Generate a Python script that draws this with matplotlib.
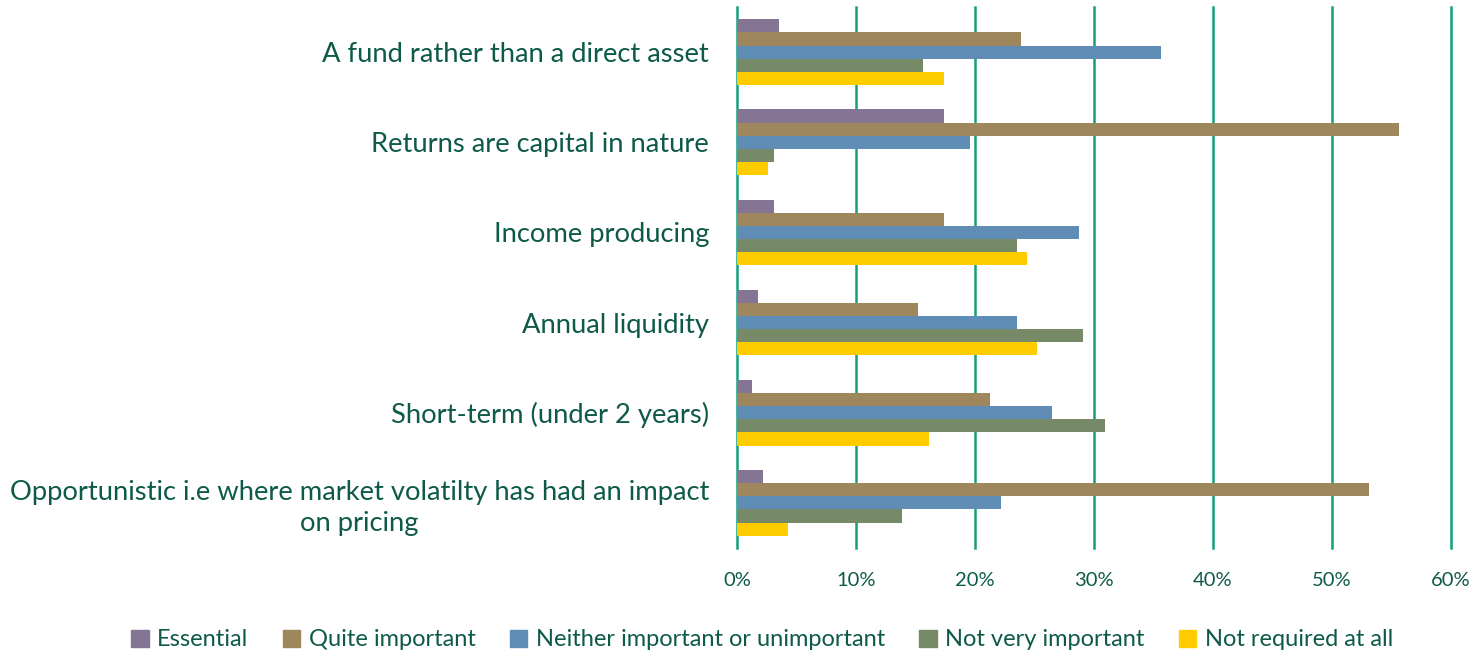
import matplotlib.pyplot as plt
from matplotlib.patches import Patch
from matplotlib.ticker import PercentFormatter
import numpy as np

categories = [
    "A fund rather than a direct asset",
    "Returns are capital in nature",
    "Income producing",
    "Annual liquidity",
    "Short-term (under 2 years)",
    "Opportunistic i.e where market volatilty has had an impact\non pricing",
]
series = ["Essential", "Quite important", "Neither important or unimportant",
          "Not very important", "Not required at all"]

essential = [3.5, 17.4, 3.1, 1.8, 1.3, 2.2]
quite_important = [23.9, 55.6, 17.4, 15.2, 21.3, 53.1]
neither = [35.6, 19.6, 28.7, 23.5, 26.5, 22.2]
not_very = [15.6, 3.1, 23.5, 29.1, 30.9, 13.9]
not_required = [17.4, 2.6, 24.4, 25.2, 16.1, 4.3]

colors = ["#857594", "#9E865D", "#5F8DB5", "#778A67", "#FFCC00"]
text_color = "#0E5A48"
grid_color = "#13A07E"

plt.rcParams['font.family'] = ['Lato', 'DejaVu Sans']

fig = plt.figure(figsize=(14.76, 6.55), dpi=100)
ax = fig.add_axes([737 / 1476, 1 - 548 / 655, (1451 - 737) / 1476, (548 - 7) / 655])

values = [essential, quite_important, neither, not_very, not_required]
y = np.arange(len(categories))
h = 0.146
for i, (vals, c) in enumerate(zip(values, colors)):
    ax.barh(y + (i - 2) * h, vals, height=h, color=c, zorder=3)

ax.set_xlim(0, 60)
ax.set_ylim(len(categories) - 0.5, -0.5)
ax.set_xticks(np.arange(0, 61, 10))
ax.xaxis.set_major_formatter(PercentFormatter(decimals=0))
ax.set_yticks(y)
ax.set_yticklabels(categories, multialignment='center', linespacing=1.3)
ax.tick_params(axis='y', length=0, pad=20, labelsize=19.7, labelcolor=text_color)
ax.tick_params(axis='x', length=0, pad=17, labelsize=14.5, labelcolor=text_color)
ax.grid(axis='x', color=grid_color, linewidth=1.8, zorder=1)
for gl in ax.get_xgridlines():
    gl.set_clip_on(False)
for s in ax.spines.values():
    s.set_visible(False)

handles = [Patch(color=c, label=s) for c, s in zip(colors, series)]
fig.legend(handles=handles, loc='center', bbox_to_anchor=(762 / 1476, 1 - 640 / 655),
           ncol=5, frameon=False, fontsize=17, labelcolor=text_color,
           handlelength=0.75, handleheight=0.75, handletextpad=0.35, columnspacing=1.45)

fig.savefig("out.png", dpi=100)
